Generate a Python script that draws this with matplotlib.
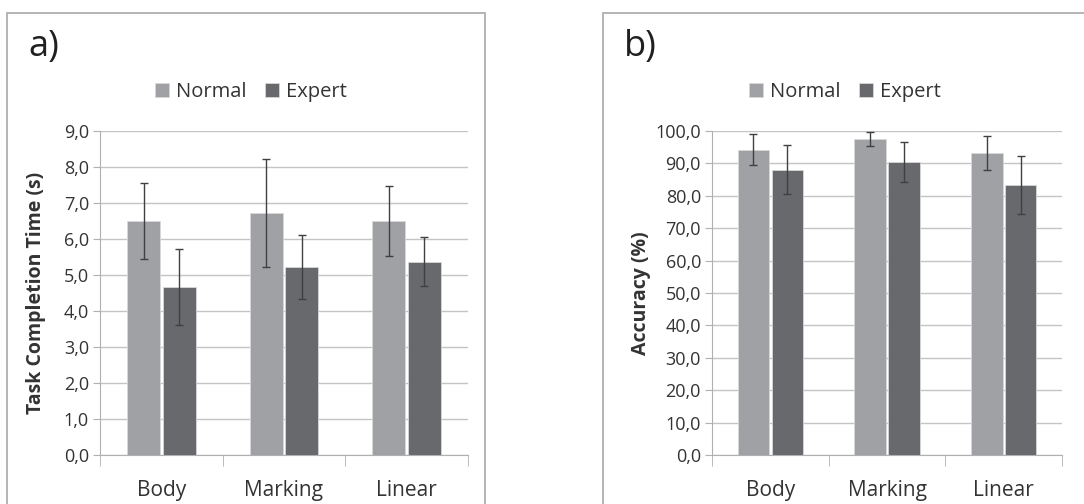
import matplotlib
matplotlib.use("Agg")
import matplotlib.pyplot as plt
from matplotlib.patches import Rectangle
from matplotlib.ticker import FuncFormatter
import numpy as np

plt.rcParams['font.family'] = ['Open Sans', 'DejaVu Sans']

# data
categories = ['Body', 'Marking', 'Linear']
series = ['Normal', 'Expert']

time_normal = [6.5, 6.72, 6.49]
time_normal_err = [1.06, 1.5, 0.97]
time_expert = [4.67, 5.22, 5.37]
time_expert_err = [1.05, 0.9, 0.68]

acc_normal = [94.2, 97.6, 93.3]
acc_normal_err = [4.8, 2.1, 5.2]
acc_expert = [88.1, 90.4, 83.4]
acc_expert_err = [7.5, 6.1, 9.0]

c_normal = '#a0a1a5'
c_expert = '#68696d'
text_c = '#333333'
grid_c = '#c4c4c4'

fig = plt.figure(figsize=(10.84, 5.04), dpi=100)

# panel frames
for x0, w in [(7 / 1084, 478 / 1084), (603 / 1084, 500 / 1084)]:
    fig.patches.append(Rectangle((x0, -0.05), w, 1.05 - 13 / 504, transform=fig.transFigure,
                                 fill=False, edgecolor='#a8a8a8', lw=1.2, clip_on=False))


def draw(ax, normal, nerr, expert, eerr, ymax, ystep, ylabel):
    x = np.arange(len(categories))
    w = 0.27
    off = 0.145
    ax.bar(x - off, normal, w, color=c_normal, edgecolor='#d8d8d8', lw=0.6, zorder=2, label=series[0])
    ax.bar(x + off, expert, w, color=c_expert, edgecolor='#d8d8d8', lw=0.6, zorder=2, label=series[1])
    ax.errorbar(x - off, normal, yerr=nerr, fmt='none', ecolor='#404040', elinewidth=1, capsize=3, capthick=1, zorder=3)
    ax.errorbar(x + off, expert, yerr=eerr, fmt='none', ecolor='#404040', elinewidth=1, capsize=3, capthick=1, zorder=3)

    ax.set_xlim(-0.5, len(categories) - 0.5)
    ax.set_ylim(0, ymax)
    ax.set_yticks(np.arange(0, ymax + ystep / 2, ystep))
    ax.yaxis.set_major_formatter(FuncFormatter(lambda v, p: f'{v:.1f}'.replace('.', ',')))
    ax.yaxis.grid(True, color=grid_c, lw=1)
    ax.set_axisbelow(True)

    ax.set_xticks(x)
    ax.set_xticklabels(categories, fontsize=15, color=text_c)
    ax.tick_params(axis='x', length=0, pad=18)
    ax.set_xticks(np.arange(-0.5, len(categories)), minor=True)
    ax.tick_params(axis='x', which='minor', length=8, color='#b0b0b0')
    ax.tick_params(axis='y', length=5, color='#b0b0b0', labelsize=13, labelcolor=text_c, pad=3)

    for s in ['top', 'right']:
        ax.spines[s].set_visible(False)
    for s in ['left', 'bottom']:
        ax.spines[s].set_color('#b0b0b0')

    ax.set_ylabel(ylabel, fontsize=14, fontweight='bold', color=text_c)


ax1 = fig.add_axes([100 / 1084, 1 - 455 / 504, 368 / 1084, 324 / 504])
draw(ax1, time_normal, time_normal_err, time_expert, time_expert_err, 9.0, 1.0, 'Task Completion Time (s)')
ax1.yaxis.set_label_coords(-0.148, 0.5)

ax2 = fig.add_axes([712 / 1084, 1 - 455 / 504, 350 / 1084, 324 / 504])
draw(ax2, acc_normal, acc_normal_err, acc_expert, acc_expert_err, 100.0, 10.0, 'Accuracy (%)')
ax2.yaxis.set_label_coords(-0.175, 0.5)

for ax, cx in [(ax1, 251 / 1084), (ax2, 845 / 1084)]:
    h, l = ax.get_legend_handles_labels()
    fig.legend(h, l, loc='center', bbox_to_anchor=(cx, 1 - 92 / 504), ncol=2, frameon=False,
               fontsize=14.5, handlelength=0.7, handleheight=0.7, handletextpad=0.35, columnspacing=0.9,
               labelcolor=text_c)

fig.text(28 / 1084, 1 - 47 / 504, 'a)', fontsize=26, color='#202020', va='center', ha='left')
fig.text(624 / 1084, 1 - 47 / 504, 'b)', fontsize=26, color='#202020', va='center', ha='left')

fig.savefig('out.png', dpi=100)
